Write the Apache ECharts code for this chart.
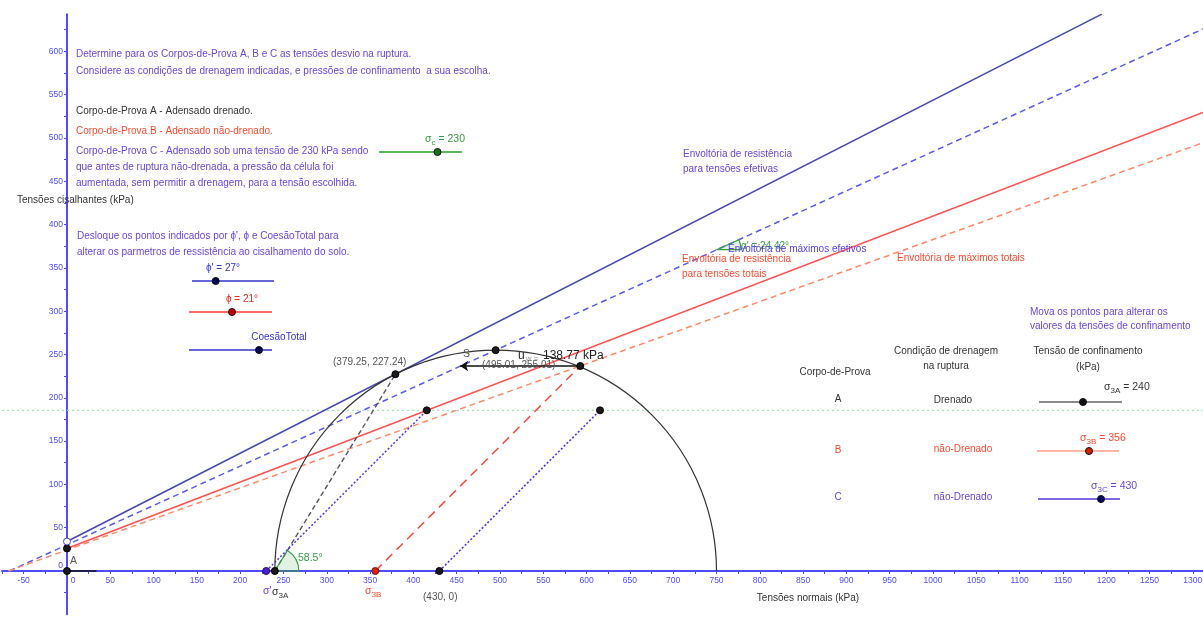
<!DOCTYPE html>
<html><head><meta charset="utf-8">
<script src="https://cdn.jsdelivr.net/npm/echarts@6/dist/echarts.min.js"></script>
<style>html,body{margin:0;padding:0;background:#fff}#c{width:1203px;height:618px}</style>
</head><body><div id="c"></div>
<script>
// ---- values ----
const xRange = [-75, 1311.8];
const yRange = [-50, 643];
const tickStep = 25;
const labelStep = 50;
const envEffSolid = [[0, 34], [1195, 643]];
const envEffMax = [[-66.7, 0], [1311.8, 625.9]];
const envTotSolid = [[0, 26], [1311.8, 529.6]];
const envTotMax = [[-67.8, 0], [1311.8, 494.5]];
const circleA = [[495, 255]];            // centre, radius
const segA = [[240, 0], [379.25, 227.24]];
const segB = [[356, 0], [592.7, 236.7]];
const segC1 = [[230, 0], [415.5, 185.5]];
const segC2 = [[430, 0], [615.5, 185.5]];
const cohesionSeg = [[0, 0], [34, 0]];
const cuLine = [[-75, 185.5], [1311.8, 185.5]];
const arrowU = [[592.7, 236.7], [454, 236.7]];
const blackPoints = [[0, 0], [0, 26], [240, 0], [379.25, 227.24], [495, 255], [592.7, 236.7], [415.5, 185.5], [615.5, 185.5], [430, 0]];
const redPoints = [[356, 0]];
const purplePoints = [[230, 0]];
const openPoints = [[0, 34]];
const angleA = [[240, 0, 58.5]];
const angleAlpha = [[750.6, 371, 24.42]];

const F = '"Liberation Sans", Arial, sans-serif';
const PURPLE = '#6a45dd', RED = '#ff4a30', DARK = '#333333', GRAY = '#555555', GREEN = '#3a9a45';
const FS = 10;

function txt(x, y, text, color, size, align, rich) {
  const s = {text: text, fill: color, font: (size || FS) + 'px ' + F, align: align || 'left', verticalAlign: 'middle'};
  if (rich) s.rich = rich;
  return {type: 'text', x: x, y: y, z: 100, style: s};
}
function subRich(color, size) {
  return {
    m: {fill: color, font: size + 'px ' + F, verticalAlign: 'middle'},
    b: {fill: color, font: (size - 2.5) + 'px ' + F, padding: [7, 0, 0, 0]}
  };
}
function sl(x1, x2, y, px, lc, pc, lw) {
  return [
    {type: 'line', z: 90, shape: {x1: x1, y1: y, x2: x2, y2: y}, style: {stroke: lc, lineWidth: lw || 2}},
    {type: 'circle', z: 91, shape: {cx: px, cy: y, r: 3.5}, style: {fill: pc, stroke: '#111', lineWidth: 1}}
  ];
}

const graphics = [
  txt(76, 54, 'Determine para os Corpos-de-Prova A, B e C as tensões desvio na ruptura.', PURPLE),
  txt(76, 71, 'Considere as condições de drenagem indicadas, e pressões de confinamento  a sua escolha.', PURPLE),
  txt(76, 111, 'Corpo-de-Prova A - Adensado drenado.', DARK),
  txt(76, 131, 'Corpo-de-Prova B - Adensado não-drenado.', RED),
  txt(76, 151, 'Corpo-de-Prova C - Adensado sob uma tensão de 230 kPa sendo', PURPLE),
  txt(76, 167, 'que antes de ruptura não-drenada, a pressão da célula foi', PURPLE),
  txt(76, 183, 'aumentada, sem permitir a drenagem, para a tensão escolhida.', PURPLE),
  txt(17, 200, 'Tensões cisalhantes (kPa)', DARK),
  txt(77, 236, "Desloque os pontos indicados por ϕ', ϕ e CoesãoTotal para", PURPLE),
  txt(77, 252, 'alterar os parmetros de ressistência ao cisalhamento do solo.', PURPLE),
  txt(223, 268, "ϕ' = 27°", '#3535cc', FS, 'center'),
  txt(242, 299, 'ϕ = 21°', '#ee2222', FS, 'center'),
  txt(279, 337, 'CoesãoTotal', '#3535cc', FS, 'center'),
  txt(425, 139, '{m|σ}{b|c}{m| = 230}', GREEN, 10.5, 'left', subRich(GREEN, 10.5)),
  txt(333, 362, '(379.25, 227.24)', GRAY),
  txt(482, 365, '(495.01, 255.01)', GRAY),
  txt(463, 354, 'S', GRAY, 10.5),
  txt(518, 356, '{u|u}{b|w =}', DARK, 12, 'left', {u: {fill: '#222', font: '12px ' + F}, b: {fill: '#999', font: '8px ' + F, padding: [6, 0, 0, 1]}}),
  txt(543, 356, '138.77 kPa', '#222', 12),
  txt(683, 154, 'Envoltória de resistência', PURPLE),
  txt(683, 169, 'para tensões efetivas', PURPLE),
  txt(741, 246, "α' = 24.42°", GREEN),
  txt(728, 249, 'Envoltória de máximos efetivos', '#5540ee'),
  txt(682, 259, 'Envoltória de resistência', RED),
  txt(682, 274, 'para tensões totais', RED),
  txt(897, 258, 'Envoltória de máximos totais', RED),
  txt(1030, 312, 'Mova os pontos para alterar os', PURPLE),
  txt(1030, 326, 'valores da tensões de confinamento', PURPLE),
  txt(946, 351, 'Condição de drenagem', DARK, FS, 'center'),
  txt(946, 366, 'na ruptura', DARK, FS, 'center'),
  txt(1088, 351, 'Tensão de confinamento', DARK, FS, 'center'),
  txt(1088, 367, '(kPa)', DARK, FS, 'center'),
  txt(835, 372, 'Corpo-de-Prova', DARK, FS, 'center'),
  txt(838, 399, 'A', DARK, FS, 'center'),
  txt(953, 400, 'Drenado', DARK, FS, 'center'),
  txt(1104, 387, '{m|σ}{b|3A}{m| = 240}', DARK, 10.5, 'left', subRich(DARK, 10.5)),
  txt(838, 450, 'B', RED, FS, 'center'),
  txt(963, 449, 'não-Drenado', RED, FS, 'center'),
  txt(1080, 438, '{m|σ}{b|3B}{m| = 356}', RED, 10.5, 'left', subRich(RED, 10.5)),
  txt(838, 497, 'C', PURPLE, FS, 'center'),
  txt(963, 497, 'não-Drenado', PURPLE, FS, 'center'),
  txt(1091, 486, '{m|σ}{b|3C}{m| = 430}', PURPLE, 10.5, 'left', subRich(PURPLE, 10.5)),
  txt(70, 561, 'A', GRAY, 10.5),
  txt(298, 558, '58.5°', GREEN, 10.5),
  txt(263, 591, "σ'", '#7a3ff0', 10.5),
  txt(272, 592, '{m|σ}{b|3A}', DARK, 10.5, 'left', subRich(DARK, 10.5)),
  txt(365, 591, '{m|σ}{b|3B}', RED, 10.5, 'left', subRich(RED, 10.5)),
  txt(423, 597, '(430, 0)', GRAY),
  txt(808, 598, 'Tensões normais (kPa)', DARK, FS, 'center')
].concat(
  sl(379, 462, 152, 437.5, '#5cb85c', '#1f6d1f'),
  sl(192, 274, 281, 215.7, '#3535cc', '#00005a', 1.5),
  sl(189, 272, 312, 232, '#ff6a6a', '#cc0000'),
  sl(189, 272, 350, 259, '#3535cc', '#00005a', 1.5),
  sl(1039, 1122, 402, 1083, '#8a8a8a', '#111'),
  sl(1037, 1119, 451, 1089, '#ffb8a8', '#cc2200'),
  sl(1038, 1120, 499, 1101, '#5533dd', '#00005a', 1.5)
);

function lineS(data, color, type, width, z) {
  return {type: 'line', data: data, showSymbol: false, silent: true, z: z || 2,
    lineStyle: {color: color, type: type || 'solid', width: width || 1.5}};
}
function pts(data, color, border, size) {
  return {type: 'scatter', data: data, symbolSize: size || 7, z: 10,
    itemStyle: {color: color, borderColor: border || '#111', borderWidth: 1, opacity: 1}};
}
function wedge(data) {
  return {type: 'custom', data: data, z: 5, encode: {x: 0, y: 1},
    renderItem: function (p, api) {
      const c = api.coord([api.value(0), api.value(1)]);
      const a = api.value(2) * Math.PI / 180;
      return {type: 'sector', shape: {cx: c[0], cy: c[1], r0: 0, r: 24, startAngle: -a, endAngle: 0, clockwise: true},
        style: {fill: 'rgba(60,160,70,0.15)', stroke: GREEN, lineWidth: 1.2}};
    }};
}

const AX = '#4d4dff';
const option = {
  animation: false,
  backgroundColor: '#fff',
  grid: {left: 2.05, right: 0, top: 14.16, bottom: 3.7, containLabel: false, outerBoundsMode: 'none'},
  xAxis: {
    type: 'value', min: xRange[0], max: xRange[1], interval: tickStep,
    position: 'bottom', offset: -43.3,
    axisLine: {onZero: false, lineStyle: {color: AX, width: 2}},
    axisTick: {show: true, length: 3, lineStyle: {color: AX}},
    axisLabel: {margin: 5, color: AX, fontSize: 8.5, fontFamily: F, showMaxLabel: false, hideOverlap: false,
      formatter: v => (v === 0 ? '{z|0}' : (Math.abs(v % labelStep) < 1e-6 ? String(v) : '')),
      rich: {z: {color: AX, fontSize: 8.5, fontFamily: F, padding: [0, 0, 0, 12]}}},
    splitLine: {show: false}
  },
  yAxis: {
    type: 'value', min: yRange[0], max: yRange[1], interval: tickStep,
    position: 'left', offset: -64.95,
    axisLine: {onZero: false, lineStyle: {color: AX, width: 2}},
    axisTick: {show: true, length: 3, lineStyle: {color: AX}},
    axisLabel: {margin: 4, color: AX, fontSize: 8.5, fontFamily: F, showMaxLabel: false, showMinLabel: false, hideOverlap: false,
      formatter: v => (v > 0 && Math.abs(v % labelStep) < 1e-6 ? String(v) : (v === 0 ? '{z|0}' : '')),
      rich: {z: {color: AX, fontSize: 8.5, fontFamily: F, padding: [0, 0, 10, 0]}}},
    splitLine: {show: false}
  },
  graphic: graphics,
  series: [
    lineS(cuLine, '#a9dfb9', [2, 3], 1.2, 1),
    lineS(envEffMax, '#5a5aee', [6, 4], 1.5),
    lineS(envTotMax, '#ff8a6a', [6, 4], 1.5),
    lineS(envTotSolid, '#ff5050', 'solid', 1.5),
    lineS(envEffSolid, '#4848b0', 'solid', 1.6),
    lineS(segA, '#555555', [5, 3], 1.4),
    lineS(segB, '#ff4a3a', [9, 6], 1.5),
    lineS(segC1, '#5533ee', [2, 2], 1.5),
    lineS(segC2, '#5533ee', [2, 2], 1.6),
    lineS(cohesionSeg, '#111', 'solid', 1.6, 3),
    {type: 'custom', data: circleA, z: 4, encode: {x: 0},
      renderItem: function (p, api) {
        const c = api.coord([api.value(0), 0]);
        const r = api.size([api.value(1), api.value(1)])[0];
        return {type: 'arc', shape: {cx: c[0], cy: c[1], r: r, startAngle: Math.PI, endAngle: 2 * Math.PI, clockwise: true},
          style: {stroke: '#333', lineWidth: 1.2, fill: null}};
      }},
    wedge(angleA),
    wedge(angleAlpha),
    {type: 'lines', coordinateSystem: 'cartesian2d', z: 6, symbol: ['none', 'arrow'], symbolSize: 8,
      data: [{coords: arrowU}], lineStyle: {color: '#111', width: 1.6, opacity: 1}},
    pts(blackPoints, '#1a1a1a', '#000'),
    pts(redPoints, '#dd2200', '#552222'),
    pts(purplePoints, '#4a1fd0', '#221166'),
    pts(openPoints, '#ffffff', '#4a4ab0', 7)
  ]
};
echarts.init(document.getElementById('c')).setOption(option);
</script>
</body></html>
